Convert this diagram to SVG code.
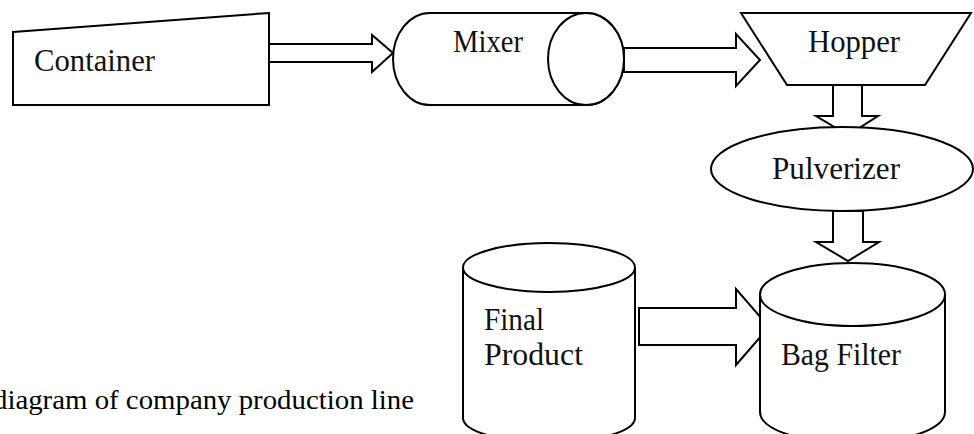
<svg xmlns="http://www.w3.org/2000/svg" width="974" height="434" viewBox="0 0 974 434">
<style>
.s{fill:#fff;stroke:#000;stroke-width:2;stroke-linejoin:miter}
.t{font-family:"Liberation Serif","Times New Roman",serif;font-size:31px;fill:#111}
.c{font-family:"Liberation Serif","Times New Roman",serif;font-size:28px;fill:#000}
</style>
<rect width="974" height="434" fill="#fff"/>
<g id="connectors">
<polygon class="s" points="269,44 372,44 372,35 393,53 372,72 372,62 269,62"/>
<polygon class="s" points="624,48 736,48 736,34 760,60 736,86 736,72 624,72"/>
<polygon class="s" points="833,85 862,85 862,116 878,116 848,135 816,116 833,116"/>
<polygon class="s" points="833,211 863,211 863,242 879,242 848,261 816,242 833,242"/>
<polygon class="s" points="639,308 736,308 736,289 769,327 736,365 736,345 639,345"/>
</g>
<g id="container">
<polygon class="s" points="13,32 269,13 269,105 13,105"/>
<text class="t" x="34" y="71" textLength="121" lengthAdjust="spacingAndGlyphs">Container</text>
</g>
<g id="mixer">
<path class="s" d="M430,13 L586,13 A38,46 0 0 1 586,105 L430,105 A37,46 0 0 1 430,13 Z"/>
<ellipse class="s" cx="586" cy="59" rx="38" ry="46"/>
<text class="t" x="453" y="52" textLength="70" lengthAdjust="spacingAndGlyphs">Mixer</text>
</g>
<g id="hopper">
<polygon class="s" points="741,13 971,13 925,85 787,85"/>
<text class="t" x="808" y="52" textLength="92" lengthAdjust="spacingAndGlyphs">Hopper</text>
</g>
<g id="pulverizer">
<ellipse class="s" cx="842" cy="169" rx="131" ry="42"/>
<text class="t" x="772" y="179" textLength="128" lengthAdjust="spacingAndGlyphs">Pulverizer</text>
</g>
<g id="final-product">
<path class="s" d="M463,267.5 L463,418 A86,24.5 0 0 0 635,418 L635,267.5"/>
<ellipse class="s" cx="549" cy="267.5" rx="86" ry="24.5"/>
<text class="t" x="484" y="330" textLength="60" lengthAdjust="spacingAndGlyphs">Final</text>
<text class="t" x="484" y="365" textLength="99" lengthAdjust="spacingAndGlyphs">Product</text>
</g>
<g id="bag-filter">
<path class="s" d="M760,294.5 L760,412 A92.5,31.5 0 0 0 945,412 L945,294.5"/>
<ellipse class="s" cx="852.5" cy="294.5" rx="92.5" ry="31.5"/>
<text class="t" x="781" y="365" textLength="120" lengthAdjust="spacingAndGlyphs">Bag Filter</text>
</g>
<text class="c" x="-7" y="409" textLength="421" lengthAdjust="spacingAndGlyphs">diagram of company production line</text>
</svg>
